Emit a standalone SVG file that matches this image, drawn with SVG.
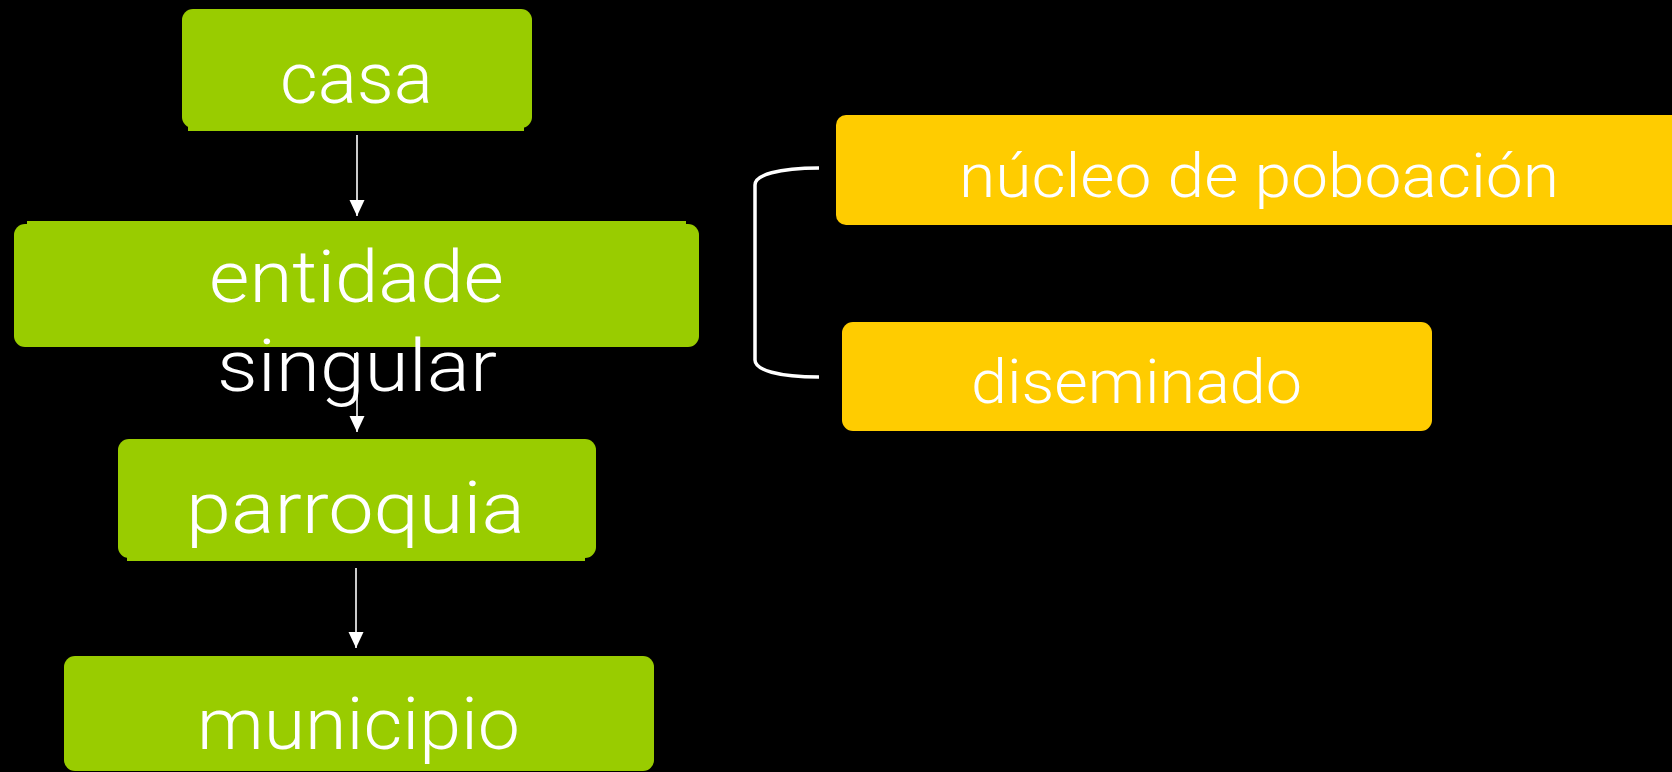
<svg xmlns="http://www.w3.org/2000/svg" width="1672" height="772" viewBox="0 0 1672 772">
  <defs>
    <style>
      .green { fill: #99CC00; }
      .yellow { fill: #FFCC00; }
      .lbl { fill: #FFFFFF; font-family: Roboto, "Liberation Sans", "DejaVu Sans", sans-serif; font-weight: 300; }
      .big { font-size: 73px; }
      .mid { font-size: 62px; }
      .conn { stroke: #FFFFFF; stroke-width: 1.6; fill: none; }
      .brace { stroke: #FFFFFF; stroke-width: 3.5; fill: none; }
    </style>
    <marker id="arrow" markerUnits="userSpaceOnUse" markerWidth="16" markerHeight="16" refX="16" refY="7.5" orient="auto">
      <path d="M0,0 L16,7.5 L0,15 Z" fill="#FFFFFF"/>
    </marker>
  </defs>
  <rect x="0" y="0" width="1672" height="772" fill="#000000"/>

  <g id="node-casa">
    <rect class="green" x="182" y="9" width="350" height="119" rx="11"/>
    <rect class="green" x="188" y="118" width="336" height="13"/>
    <text class="lbl big" x="280" y="103" textLength="153" lengthAdjust="spacingAndGlyphs">casa</text>
  </g>

  <g id="node-entidade">
    <rect class="green" x="14" y="224" width="685" height="123" rx="11"/>
    <rect class="green" x="27" y="221" width="659" height="10"/>
    <text class="lbl big" x="209" y="302" textLength="295" lengthAdjust="spacingAndGlyphs">entidade</text>
    <text class="lbl big" x="217" y="391" textLength="280" lengthAdjust="spacingAndGlyphs">singular</text>
  </g>

  <g id="node-parroquia">
    <rect class="green" x="118" y="439" width="478" height="119" rx="11"/>
    <rect class="green" x="127" y="548" width="458" height="13"/>
    <text class="lbl big" x="186" y="533" textLength="339" lengthAdjust="spacingAndGlyphs">parroquia</text>
  </g>

  <g id="node-municipio">
    <rect class="green" x="64" y="656" width="590" height="115" rx="11"/>
    <text class="lbl big" x="197" y="749" textLength="323" lengthAdjust="spacingAndGlyphs">municipio</text>
  </g>

  <g id="node-nucleo">
    <rect class="yellow" x="836" y="115" width="850" height="110" rx="10"/>
    <text class="lbl mid" x="959" y="197" textLength="600" lengthAdjust="spacingAndGlyphs">núcleo de poboación</text>
  </g>

  <g id="node-diseminado">
    <rect class="yellow" x="842" y="322" width="590" height="109" rx="11"/>
    <text class="lbl mid" x="971" y="403" textLength="331" lengthAdjust="spacingAndGlyphs">diseminado</text>
  </g>

  <g id="connectors">
    <line class="conn" x1="357" y1="135" x2="357" y2="216" marker-end="url(#arrow)"/>
    <line class="conn" x1="357" y1="352" x2="357" y2="432" marker-end="url(#arrow)"/>
    <line class="conn" x1="356" y1="568" x2="356" y2="648" marker-end="url(#arrow)"/>
    <path class="brace" d="M819,168 C778,168 755,175 755,185 L755,360 C755,370 778,377 819,377"/>
  </g>
</svg>
